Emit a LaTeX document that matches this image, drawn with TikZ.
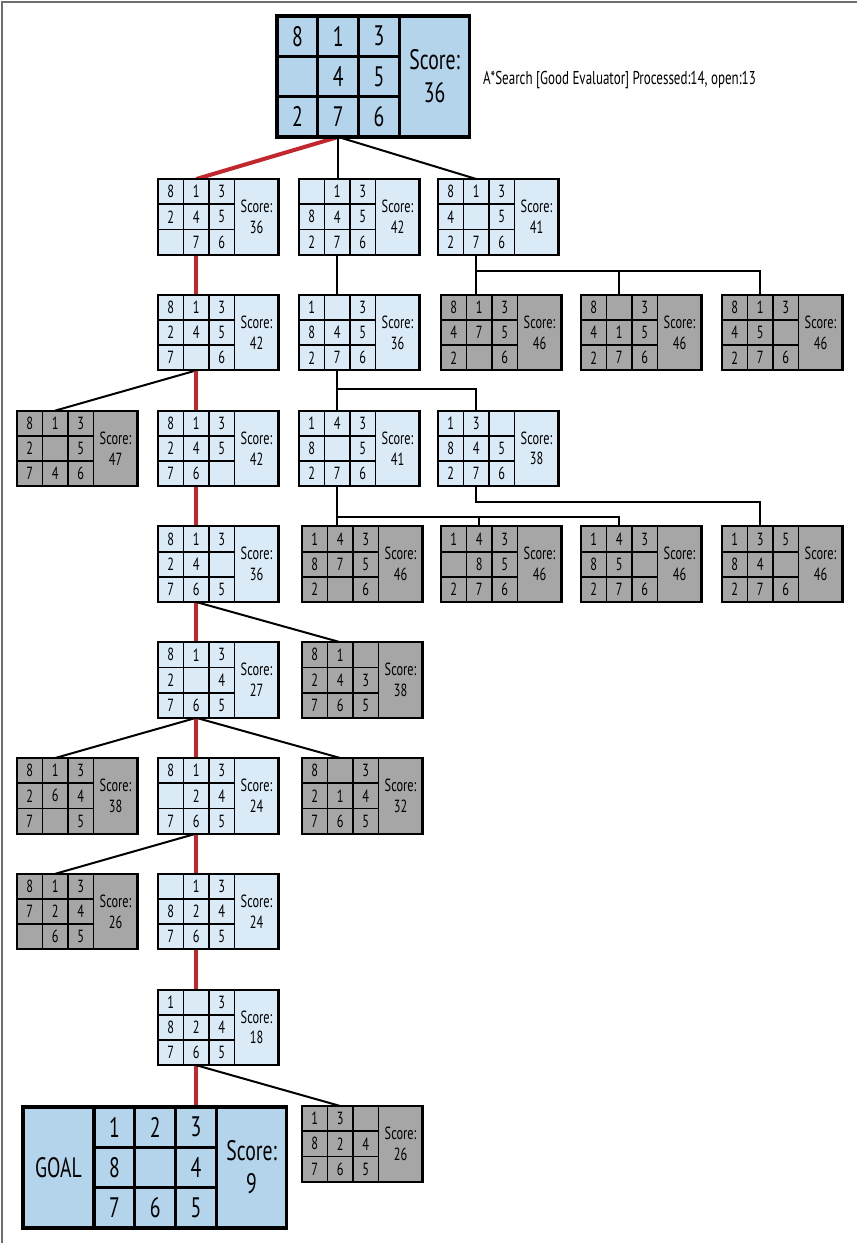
\documentclass[tikz,border=0pt]{standalone}
\usepackage{fontspec}
\setmainfont{PT Sans}[FakeStretch=0.70]
\usetikzlibrary{backgrounds}
\definecolor{lblue}{HTML}{DAEAF6}
\definecolor{bblue}{HTML}{B3D4EB}
\definecolor{gbox}{HTML}{A6A6A6}
\definecolor{redpath}{HTML}{C1272D}
\definecolor{framegray}{HTML}{6E6E6E}
\tikzset{
  pzbox/.style={draw=black, inner sep=0pt, outer sep=0pt, anchor=north west},
  pztext/.style={inner sep=0pt, align=center, text=black},
  edge/.style={draw=black, line width=2pt},
  redge/.style={draw=redpath, line width=4pt},
}
% #1 name, #2 x, #3 y, #4 fill, #5 cells, #6 score, #7 scale
\newcommand\puz[7]{%
  \pgfmathsetmacro\pzcw{25.5*#7}%
  \pgfmathsetmacro\pzch{25.2*#7}%
  \pgfmathsetmacro\pzsw{44*#7}%
  \pgfmathsetmacro\pzw{3*\pzcw+\pzsw}%
  \pgfmathsetmacro\pzh{3*\pzch}%
  \pgfmathsetmacro\pzlw{2.1*#7}%
  \pgfmathsetmacro\pzil{1.8*#7}%
  \pgfmathsetmacro\pzfs{17.6*#7}%
  \pgfmathsetmacro\pzbs{1.18*\pzfs}%
  \node[pzbox, fill=#4, minimum width=\pzw pt, minimum height=\pzh pt, line width=\pzlw pt] (#1) at (#2,#3) {};
  \draw[line width=\pzil pt]
    ({#2+\pzcw},#3) -- ++(0,\pzh)
    ({#2+2*\pzcw},#3) -- ++(0,\pzh)
    ({#2+3*\pzcw},#3) -- ++(0,\pzh)
    (#2,{#3+\pzch}) -- ++({3*\pzcw},0)
    (#2,{#3+2*\pzch}) -- ++({3*\pzcw},0);
  \foreach \v [count=\i from 0] in {#5} {%
    \pgfmathtruncatemacro\pzc{mod(\i,3)}%
    \pgfmathtruncatemacro\pzr{floor(\i/3)}%
    \node[pztext, font=\fontsize{\pzfs}{\pzbs}\selectfont] (#1-c\i) at ({#2+(\pzc+0.5)*\pzcw},{#3+(\pzr+0.5)*\pzch}) {\v};
  }%
  \node[pztext, font=\fontsize{\pzfs}{\pzbs}\selectfont] (#1-s) at ({#2+3*\pzcw+0.5*\pzsw},{#3+0.5*\pzh}) {Score:\\#6};
  \coordinate (#1-t) at ({#2+1.5*\pzcw},#3);
  \coordinate (#1-b) at ({#2+1.5*\pzcw},{#3+\pzh});
}
\begin{document}
\begin{tikzpicture}[x=1pt,y=-1pt]
\useasboundingbox (0,0) rectangle (857,1243);
\draw[framegray, line width=1.6pt] (2,1243) -- (2,2) -- (857,2);

\puz{Root}{277}{16}{bblue}{8,1,3,{},4,5,2,7,6}{36}{1.6}
\node[pztext, anchor=west, font=\fontsize{18.6}{22}\selectfont] (title) at (483,80) {A*Search [Good Evaluator] Processed:14, open:13};

\puz{A}{158}{179}{lblue}{8,1,3,2,4,5,{},7,6}{36}{1}
\puz{B}{299}{179}{lblue}{{},1,3,8,4,5,2,7,6}{42}{1}
\puz{C}{438}{179}{lblue}{8,1,3,4,{},5,2,7,6}{41}{1}

\puz{D}{158}{294.8}{lblue}{8,1,3,2,4,5,7,{},6}{42}{1}
\puz{E}{299}{294.8}{lblue}{1,{},3,8,4,5,2,7,6}{36}{1}
\puz{F}{441}{294.8}{gbox}{8,1,3,4,7,5,2,{},6}{46}{1}
\puz{G}{581}{294.8}{gbox}{8,{},3,4,1,5,2,7,6}{46}{1}
\puz{H}{722}{294.8}{gbox}{8,1,3,4,5,{},2,7,6}{46}{1}

\puz{I}{17}{410.6}{gbox}{8,1,3,2,{},5,7,4,6}{47}{1}
\puz{J}{158}{410.6}{lblue}{8,1,3,2,4,5,7,6,{}}{42}{1}
\puz{K}{299}{410.6}{lblue}{1,4,3,8,{},5,2,7,6}{41}{1}
\puz{L}{438}{410.6}{lblue}{1,3,{},8,4,5,2,7,6}{38}{1}

\puz{M}{158}{526.4}{lblue}{8,1,3,2,4,{},7,6,5}{36}{1}
\puz{N}{302}{526.4}{gbox}{1,4,3,8,7,5,2,{},6}{46}{1}
\puz{O}{441}{526.4}{gbox}{1,4,3,{},8,5,2,7,6}{46}{1}
\puz{P}{581}{526.4}{gbox}{1,4,3,8,5,{},2,7,6}{46}{1}
\puz{Q}{722}{526.4}{gbox}{1,3,5,8,4,{},2,7,6}{46}{1}

\puz{R}{158}{642.2}{lblue}{8,1,3,2,{},4,7,6,5}{27}{1}
\puz{S}{302}{642.2}{gbox}{8,1,{},2,4,3,7,6,5}{38}{1}

\puz{T}{17}{758}{gbox}{8,1,3,2,6,4,7,{},5}{38}{1}
\puz{U}{158}{758}{lblue}{8,1,3,{},2,4,7,6,5}{24}{1}
\puz{V}{302}{758}{gbox}{8,{},3,2,1,4,7,6,5}{32}{1}

\puz{W}{17}{873.8}{gbox}{8,1,3,7,2,4,{},6,5}{26}{1}
\puz{X}{158}{873.8}{lblue}{{},1,3,8,2,4,7,6,5}{24}{1}

\puz{Y}{158}{989.6}{lblue}{1,{},3,8,2,4,7,6,5}{18}{1}

\node[pzbox, fill=bblue, minimum width=71pt, minimum height=120.96pt, line width=3.2pt,
      font=\fontsize{28}{33}\selectfont] (goallabel) at (23,1107) {GOAL};
\puz{Goal}{94}{1107}{bblue}{1,2,3,8,{},4,7,6,5}{9}{1.6}
\puz{Z}{302}{1106}{gbox}{1,3,{},8,2,4,7,6,5}{26}{1}

\begin{pgfonlayer}{background}
  % root
  \draw[redge] (Root-b) -- (A-t);
  \draw[edge] (Root-b) -- (Root-b |- B.north);
  \draw[edge] (Root-b) -- (C-t);
  % level 1
  \draw[redge] (A-b) -- (D-t);
  \draw[edge] (B-b) -- (E-t);
  \draw[edge] (C-b) -- (C-b |- F.north);
  \draw[edge] (C-b) ++(0,16) -| (H-t);
  \draw[edge] (C-b) ++(0,16) -| (G-t);
  % level 2
  \draw[edge] (D-b) -- (I-t);
  \draw[redge] (D-b) -- (J-t);
  \draw[edge] (E-b) -- (K-t);
  \draw[edge] (E-b) ++(0,19) -| (L-t);
  % level 3
  \draw[redge] (J-b) -- (M-t);
  \draw[edge] (K-b) -- (K-b |- N.north);
  \draw[edge] (K-b) ++(0,31) -| (O-t);
  \draw[edge] (K-b) ++(0,31) -| (P-t);
  \draw[edge] (L-b) -- ++(0,16) -| (Q-t);
  % level 4
  \draw[redge] (M-b) -- (R-t);
  \draw[edge] (M-b) -- (S-t);
  % level 5
  \draw[edge] (R-b) -- (T-t);
  \draw[redge] (R-b) -- (U-t);
  \draw[edge] (R-b) -- (V-t);
  % level 6
  \draw[edge] (U-b) -- (W-t);
  \draw[redge] (U-b) -- (X-t);
  % level 7
  \draw[redge] (X-b) -- (Y-t);
  % level 8
  \draw[redge] (Y-b) -- (Y-b |- Goal.north);
  \draw[edge] (Y-b) -- (Z-t);
\end{pgfonlayer}
\end{tikzpicture}
\end{document}
